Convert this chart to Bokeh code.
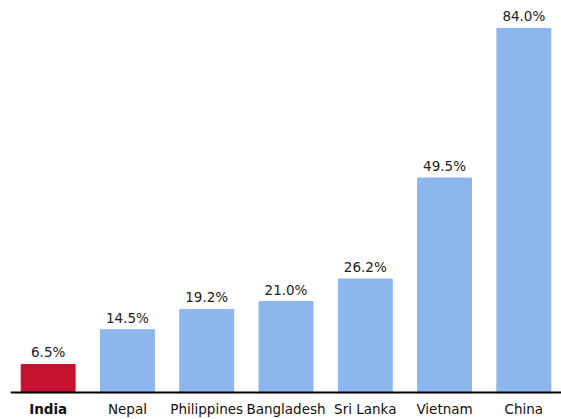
from bokeh.plotting import figure
from bokeh.models import ColumnDataSource, FactorRange, Range1d, Span
from bokeh.core.properties import value
from bokeh.embed import file_html
from bokeh.resources import INLINE

countries = ["India", "Nepal", "Philippines", "Bangladesh", "Sri Lanka", "Vietnam", "China"]
shares = [6.5, 14.5, 19.2, 21.0, 26.2, 49.5, 84.0]
colors = ["#C41230", "#8DB5EE", "#8DB5EE", "#8DB5EE", "#8DB5EE", "#8DB5EE", "#8DB5EE"]
weights = ["bold", "normal", "normal", "normal", "normal", "normal", "normal"]
labels = [f"{v:.1f}%" for v in shares]

src = ColumnDataSource(dict(x=countries, top=shares, color=colors, label=labels,
                            weight=weights, zero=[0] * len(countries)))

p = figure(width=561, height=419,
           x_range=FactorRange(*countries, range_padding=-0.05 / 7),
           y_range=Range1d(-6.2, 88.6), output_backend="svg", toolbar_location=None,
           min_border=0, min_border_left=10, min_border_top=8, outline_line_color=None)
p.axis.visible = False
p.grid.visible = False

p.vbar(x="x", top="top", width=0.68, color="color", source=src)
p.add_layout(Span(location=0, dimension="width", line_color="black", line_width=2))

p.text(x="x", y="top", text="label", source=src, text_align="center",
       text_baseline="bottom", y_offset=-4, text_font=value("DejaVu Sans"),
       text_font_size="13.5px", text_color="#222222")
p.text(x="x", y="zero", text="x", source=src, text_align="center",
       text_baseline="middle", y_offset=16, text_font=value("DejaVu Sans"),
       text_font_size="13.5px", text_font_style="weight", text_color="#111111")

open("out.html", "w").write(file_html(p, INLINE))
